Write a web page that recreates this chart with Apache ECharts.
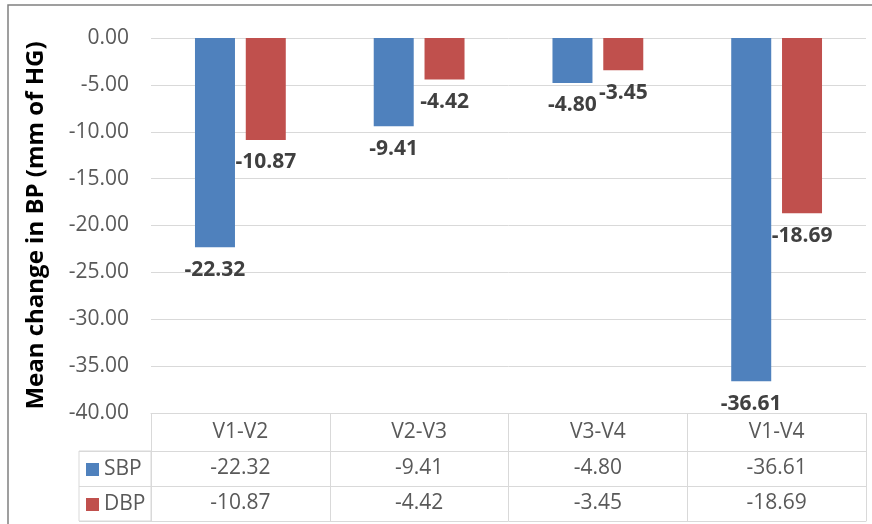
<!DOCTYPE html>
<html>
<head>
<meta charset="utf-8">
<style>
  html, body { margin: 0; padding: 0; background: #ffffff; }
  #chart { width: 872px; height: 524px; }
</style>
<script src="https://cdn.jsdelivr.net/npm/echarts@6/dist/echarts.min.js"></script>
</head>
<body>
<div id="chart"></div>
<script>
const categories = ['V1-V2', 'V2-V3', 'V3-V4', 'V1-V4'];
const sbp = [-22.32, -9.41, -4.80, -36.61];
const dbp = [-10.87, -4.42, -3.45, -18.69];
const seriesNames = ['SBP', 'DBP'];
const yTicks = { min: -40, max: 0, interval: 5 };
const yTitle = 'Mean change in BP (mm of HG)';

const FONT = '"Open Sans", "Noto Sans", sans-serif';
const GRID_LINE = '#d9d9d9';
const TEXT = '#595959';
const fmt = v => Number(v).toFixed(2);

const chart = echarts.init(document.getElementById('chart'), null, { renderer: 'canvas' });

function tableAxis(data, offset, tickLen, margin, showLabel) {
  return {
    type: 'category', gridIndex: 0, position: 'bottom', offset: offset,
    data: data,
    axisLine: { show: true, onZero: false, lineStyle: { color: GRID_LINE, width: 1 } },
    axisTick: { show: tickLen > 0, interval: 0, alignWithLabel: false, length: tickLen,
                lineStyle: { color: GRID_LINE, width: 1 } },
    axisLabel: { show: showLabel, interval: 0, margin: margin, fontFamily: FONT, fontSize: 21,
                 color: TEXT, lineHeight: 21 },
    splitLine: { show: false },
    splitArea: { show: false }
  };
}

const option = {
  animation: false,
  backgroundColor: '#ffffff',
  textStyle: { fontFamily: FONT },
  graphic: [{
    type: 'rect', silent: true, z: -1,
    shape: { x: 8, y: 5, width: 1000, height: 1000 },
    style: { fill: 'none', stroke: '#808080', lineWidth: 1.5 }
  }],
  legend: {
    data: seriesNames,
    orient: 'vertical',
    left: 86, top: 459,
    itemWidth: 13, itemHeight: 13, itemGap: 14,
    icon: 'rect', padding: 0,
    textStyle: { fontFamily: FONT, fontSize: 21, color: TEXT, lineHeight: 21 }
  },
  grid: [
    { left: 151, right: 6, top: 38, bottom: 111, containLabel: false },
    { left: 79, width: 72, top: 451, height: 70, show: true, borderColor: GRID_LINE, borderWidth: 1 }
  ],
  xAxis: [
    tableAxis(categories, 0, 38, 9, true),
    tableAxis(sbp.map(fmt), 38, 35, 7, true),
    tableAxis(dbp.map(fmt), 73, 35, 7, true),
    tableAxis(categories, 108, 0, 0, false),
    { type: 'value', gridIndex: 1, show: false, min: 0, max: 1 }
  ],
  yAxis: [
    {
      type: 'value', gridIndex: 0,
      min: yTicks.min, max: yTicks.max, interval: yTicks.interval,
      axisLine: { show: false }, axisTick: { show: false },
      axisLabel: { formatter: fmt, fontFamily: FONT, fontSize: 21, color: TEXT, margin: 22 },
      splitLine: { show: true, lineStyle: { color: GRID_LINE, width: 1 } },
      name: yTitle, nameLocation: 'middle', nameGap: 103, nameRotate: 90,
      nameTextStyle: { fontFamily: FONT, fontSize: 24, fontWeight: 'bold', color: '#000000' }
    },
    {
      type: 'category', gridIndex: 1, data: seriesNames, inverse: true,
      axisLine: { show: false }, axisTick: { show: false }, axisLabel: { show: false },
      splitLine: { show: true, interval: 0, lineStyle: { color: GRID_LINE, width: 1 } }
    }
  ],
  series: [
    {
      name: seriesNames[0], type: 'bar', xAxisIndex: 0, yAxisIndex: 0,
      data: sbp, barWidth: 40, barGap: '27%',
      itemStyle: { color: '#4f81bd' },
      label: { show: true, position: 'bottom', distance: 12, formatter: p => fmt(p.value),
               fontFamily: FONT, fontSize: 21, fontWeight: 'bold', color: '#404040' }
    },
    {
      name: seriesNames[1], type: 'bar', xAxisIndex: 0, yAxisIndex: 0,
      data: dbp, barWidth: 40, barGap: '27%',
      itemStyle: { color: '#c0504d' },
      label: { show: true, position: 'bottom', distance: 12, formatter: p => fmt(p.value),
               fontFamily: FONT, fontSize: 21, fontWeight: 'bold', color: '#404040' }
    }
  ]
};
chart.setOption(option);
</script>
</body>
</html>
